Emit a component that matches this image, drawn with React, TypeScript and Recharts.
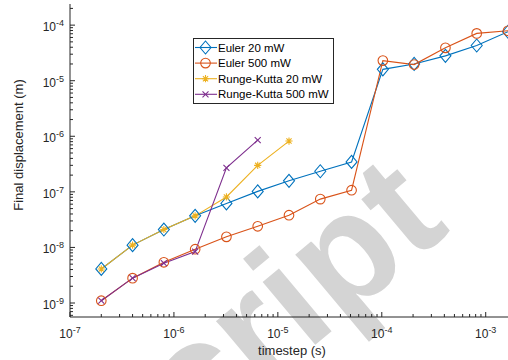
import { LineChart, Line, XAxis, YAxis, Legend, Label } from "recharts";

// timestep (s) for every run
const timesteps = [
  2e-7, 4e-7, 8e-7, 1.6e-6, 3.2e-6, 6.4e-6, 1.28e-5, 2.56e-5, 5.12e-5, 1.024e-4, 2.048e-4, 4.096e-4,
  8.192e-4, 1.6384e-3,
];

// final displacement (m)
const euler20 = [
  4.1e-9, 1.1e-8, 2.1e-8, 3.7e-8, 6.2e-8, 1.02e-7, 1.58e-7, 2.35e-7, 3.45e-7, 1.6e-5, 2.0e-5, 2.8e-5,
  4.3e-5, 7.6e-5,
];
const euler500 = [
  1.1e-9, 2.8e-9, 5.4e-9, 9.3e-9, 1.55e-8, 2.4e-8, 3.8e-8, 7.4e-8, 1.07e-7, 2.3e-5, 1.95e-5, 3.9e-5,
  7.1e-5, 7.9e-5,
];
const rk20 = [4.1e-9, 1.1e-8, 2.1e-8, 3.7e-8, 8.1e-8, 3.0e-7, 8.2e-7];
const rk500 = [1.1e-9, 2.8e-9, 5.2e-9, 8.4e-9, 2.7e-7, 8.5e-7];

const xMajorTicks = [1e-7, 1e-6, 1e-5, 1e-4, 1e-3];
const yMajorTicks = [1e-9, 1e-8, 1e-7, 1e-6, 1e-5, 1e-4];
const xDomain: [number, number] = [1e-7, 2e-3];
const yDomain: [number, number] = [5.6e-10, 2.4e-4];

const series = [
  { key: "euler20", name: "Euler 20 mW", color: "#0072BD", marker: "diamond", values: euler20 },
  { key: "euler500", name: "Euler 500 mW", color: "#D95319", marker: "circle", values: euler500 },
  { key: "rk20", name: "Runge-Kutta 20 mW", color: "#EDB120", marker: "star", values: rk20 },
  { key: "rk500", name: "Runge-Kutta 500 mW", color: "#7E2F8E", marker: "cross", values: rk500 },
];

const data = timesteps.map((t, i) => {
  const row: any = { t };
  series.forEach((s) => {
    row[s.key] = s.values[i] ?? null;
  });
  return row;
});

// log axis: majors plus 2..9 minors inside the domain
const withMinor = (majors: number[], domain: [number, number]) => {
  const out: number[] = [];
  [majors[0] / 10, ...majors].forEach((d) => {
    for (let m = 1; m <= 9; m++) {
      const v = d * m;
      if (v >= domain[0] * 0.999 && v <= domain[1] * 1.001) out.push(v);
    }
  });
  return out;
};

const isMajor = (v: number) => Math.abs(Math.log10(v) - Math.round(Math.log10(v))) < 1e-6;

const FONT = "'Liberation Sans', Arial, Helvetica, sans-serif";
const AXIS = "#262626";

const XTick = ({ x, y, payload }: any) => {
  const v = payload.value;
  const major = isMajor(v);
  return (
    <g>
      <line x1={x} x2={x} y1={y} y2={y - (major ? 5 : 3)} stroke={AXIS} strokeWidth={1} />
      {major && (
        <text x={x} y={y + 21} textAnchor="middle" fontSize={12} fill={AXIS} fontFamily={FONT}>
          10
          <tspan dy={-5} fontSize={9}>
            {Math.round(Math.log10(v))}
          </tspan>
        </text>
      )}
    </g>
  );
};

const YTick = ({ x, y, payload }: any) => {
  const v = payload.value;
  const major = isMajor(v);
  return (
    <g>
      <line x1={x} x2={x + (major ? 5 : 3)} y1={y} y2={y} stroke={AXIS} strokeWidth={1} />
      {major && (
        <text x={x - 6} y={y + 6} textAnchor="end" fontSize={12} fill={AXIS} fontFamily={FONT}>
          10
          <tspan dy={-5} fontSize={9}>
            {Math.round(Math.log10(v))}
          </tspan>
        </text>
      )}
    </g>
  );
};

const Marker = ({ kind, cx, cy, color }: any) => {
  if (kind === "diamond")
    return (
      <path
        d={`M${cx},${cy - 6.5}L${cx + 5.5},${cy}L${cx},${cy + 6.5}L${cx - 5.5},${cy}Z`}
        fill="none"
        stroke={color}
        strokeWidth={1.1}
      />
    );
  if (kind === "circle") return <circle cx={cx} cy={cy} r={4.8} fill="none" stroke={color} strokeWidth={1.1} />;
  if (kind === "star") {
    const r = 3.6;
    const d = r * 0.72;
    return (
      <path
        d={`M${cx - r},${cy}H${cx + r}M${cx},${cy - r}V${cy + r}M${cx - d},${cy - d}L${cx + d},${cy + d}M${cx - d},${cy + d}L${cx + d},${cy - d}`}
        stroke={color}
        strokeWidth={1.1}
      />
    );
  }
  const d = 3;
  return (
    <path
      d={`M${cx - d},${cy - d}L${cx + d},${cy + d}M${cx - d},${cy + d}L${cx + d},${cy - d}`}
      stroke={color}
      strokeWidth={1.1}
    />
  );
};

const LegendBox = ({ payload }: any) => (
  <svg width={141} height={66} style={{ display: "block" }}>
    <rect x={0.5} y={0.5} width={140} height={65} fill="#fff" stroke={AXIS} strokeWidth={1} />
    {(payload || []).map((entry: any, i: number) => {
      const s = series.find((x) => x.key === entry.dataKey) || series[i];
      const y = 9.5 + i * 15.6;
      return (
        <g key={s.key}>
          <line x1={2} x2={24} y1={y} y2={y} stroke={s.color} strokeWidth={1.1} />
          <Marker kind={s.marker} cx={12.5} cy={y} color={s.color} />
          <text x={25} y={y + 4} fontSize={11.5} fill="#000" fontFamily={FONT}>
            {s.name}
          </text>
        </g>
      );
    })}
  </svg>
);

export default function App() {
  return (
    <div
      style={{
        position: "fixed",
        left: 0,
        top: 0,
        width: 508,
        height: 360,
        overflow: "hidden",
        background: "#fff",
        fontFamily: FONT,
      }}
    >
      {/* faint "manuscript" watermark behind the plot */}
      <svg width={508} height={360} style={{ position: "absolute", left: 0, top: 0 }}>
        <text
          x={452}
          y={230}
          textAnchor="end"
          fontSize={155}
          fontWeight="bold"
          fill="#d4d4d4"
          fontFamily={FONT}
          transform="rotate(-40 452 230)"
        >
          script
        </text>
      </svg>
      <div style={{ position: "absolute", left: 0, top: 0 }}>
        <LineChart width={517} height={360} data={data} margin={{ top: 4, right: 0, left: 0, bottom: 0 }}>
          <XAxis
            dataKey="t"
            type="number"
            scale="log"
            domain={xDomain}
            allowDataOverflow
            ticks={withMinor(xMajorTicks, xDomain)}
            interval={0}
            tickSize={0}
            tickMargin={0}
            tickLine={false}
            axisLine={{ stroke: AXIS, strokeWidth: 1 }}
            tick={(p: any) => <XTick {...p} />}
            height={43}
          >
            <Label
              content={() => (
                <text x={292} y={355} textAnchor="middle" fontSize={13} fill={AXIS} fontFamily={FONT}>
                  timestep (s)
                </text>
              )}
            />
          </XAxis>
          <YAxis
            type="number"
            scale="log"
            domain={yDomain}
            allowDataOverflow
            ticks={withMinor(yMajorTicks, yDomain)}
            interval={0}
            tickSize={0}
            tickMargin={0}
            tickLine={false}
            axisLine={{ stroke: AXIS, strokeWidth: 1 }}
            tick={(p: any) => <YTick {...p} />}
            width={70}
          >
            <Label
              content={() => (
                <text
                  x={23}
                  y={145}
                  textAnchor="middle"
                  fontSize={13}
                  fill={AXIS}
                  fontFamily={FONT}
                  transform="rotate(-90 23 145)"
                >
                  Final displacement (m)
                </text>
              )}
            />
          </YAxis>
          <Legend
            layout="vertical"
            align="center"
            verticalAlign="middle"
            content={<LegendBox />}
            wrapperStyle={{ position: "absolute", left: 193, top: 38, width: 141, height: 66 }}
          />
          {series.map((s) => (
            <Line
              key={s.key}
              type="linear"
              dataKey={s.key}
              name={s.name}
              stroke={s.color}
              strokeWidth={1.1}
              isAnimationActive={false}
              dot={(p: any) =>
                p.cy == null || p.value == null ? (
                  <g key={p.index} />
                ) : (
                  <Marker key={p.index} kind={s.marker} cx={p.cx} cy={p.cy} color={s.color} />
                )
              }
              activeDot={false}
            />
          ))}
        </LineChart>
      </div>
    </div>
  );
}
